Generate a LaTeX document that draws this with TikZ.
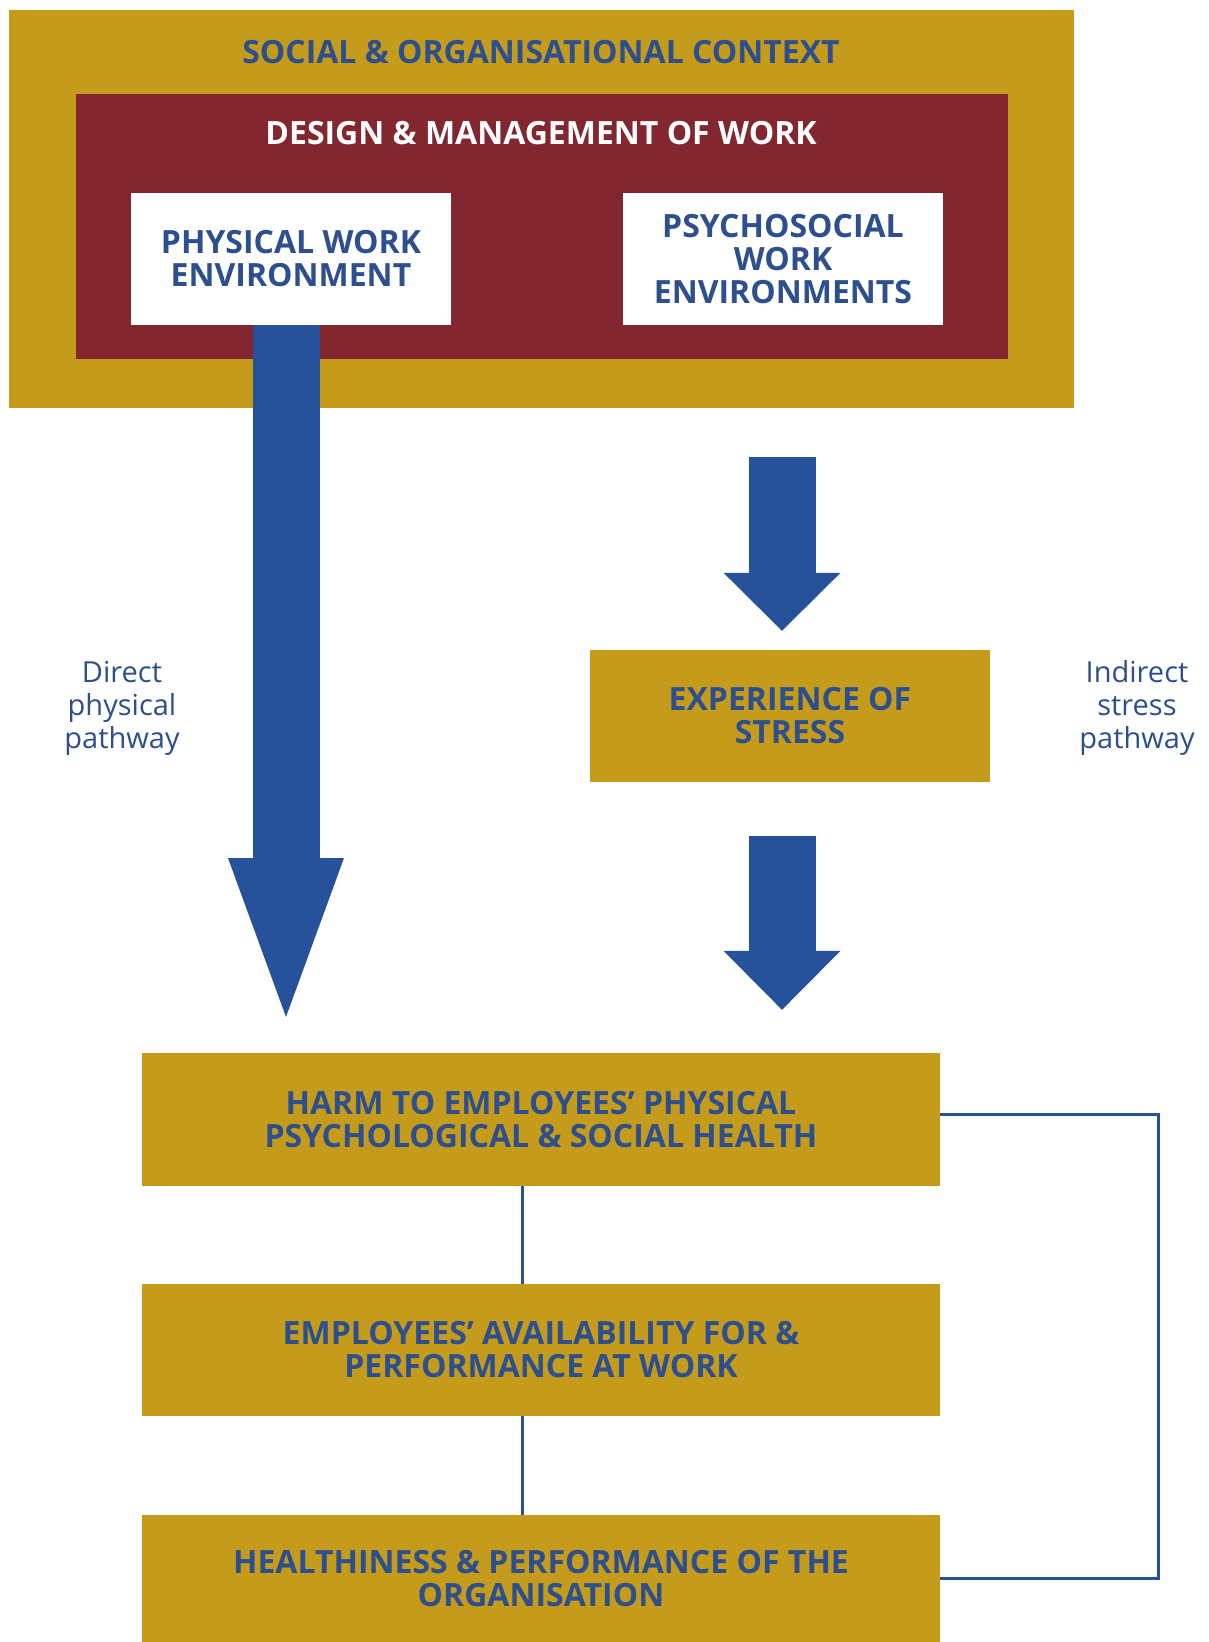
\documentclass[tikz,border=0pt]{standalone}
\usepackage{fontspec}
\setmainfont{Open Sans}
\usetikzlibrary{arrows.meta}
\usetikzlibrary{positioning}

\definecolor{ctxgold}{HTML}{C59B1B}
\definecolor{mgmtred}{HTML}{822630}
\definecolor{pathblue}{HTML}{28519C}
\definecolor{textblue}{HTML}{2D4F8E}

\begin{document}
\begin{tikzpicture}[x=1pt, y=-1pt,
  boxtext/.style={font=\fontsize{32}{33}\selectfont\bfseries, align=center, inner sep=0pt},
  goldbox/.style={boxtext, fill=ctxgold, text=textblue},
  whitebox/.style={boxtext, fill=white, text=textblue, minimum width=320pt, minimum height=132pt},
  heading/.style={boxtext},
  pathlabel/.style={font=\fontsize{29}{33}\selectfont, text=textblue, align=center},
  bigarrow/.style={pathblue, line width=67pt},
  link/.style={pathblue, line width=3pt}
]

  \useasboundingbox[fill=white] (0,0) rectangle (1209,1642);

  % Define nodes
  \node[fill=ctxgold, inner sep=0pt, minimum width=1065pt, minimum height=398pt] (context) at (541.5,209) {};
  \node[heading, text=textblue] (ctxtitle) at (541,52) {SOCIAL \& ORGANISATIONAL CONTEXT};
  \node[fill=mgmtred, inner sep=0pt, minimum width=932pt, minimum height=265pt] (design) at (542,226.5) {};
  \node[heading, text=white] (designtitle) at (541,133) {DESIGN \& MANAGEMENT OF WORK};
  \node[whitebox] (physical) at (291,259) {PHYSICAL WORK\\ENVIRONMENT};
  \node[whitebox] (psychosocial) at (783,259) {PSYCHOSOCIAL\\WORK\\ENVIRONMENTS};

  \node[goldbox, minimum width=400pt, minimum height=132pt] (stress) at (790,716) {EXPERIENCE OF\\STRESS};
  \node[goldbox, minimum width=798pt, minimum height=133pt] (harm) at (541,1119.5) {HARM TO EMPLOYEES’ PHYSICAL\\PSYCHOLOGICAL \& SOCIAL HEALTH};
  \node[goldbox, minimum width=798pt, minimum height=132pt] (avail) at (541,1350) {EMPLOYEES’ AVAILABILITY FOR \&\\PERFORMANCE AT WORK};
  \node[goldbox, minimum width=798pt, minimum height=127pt] (health) at (541,1578.5) {HEALTHINESS \& PERFORMANCE OF THE\\ORGANISATION};

  \node[pathlabel] (direct) at (122,708) {Direct\\physical\\pathway};
  \node[pathlabel] (indirect) at (1137,708) {Indirect\\stress\\pathway};

  \coordinate (physTip) at (286,1017);
  \coordinate (stressAxis) at (782,0);
  \coordinate (spine) at (522,0);

  % Connect the nodes
  \draw[bigarrow, -{Triangle[width=116pt, length=159pt, line width=0pt]}] (physical.south -| physTip) -- (physTip);
  \draw[bigarrow, -{Triangle[width=117pt, length=58pt, line width=0pt]}]
    ([yshift=-49pt]context.south -| stressAxis) -- ([yshift=19pt]stress.north -| stressAxis);
  \draw[bigarrow, -{Triangle[width=117pt, length=59pt, line width=0pt]}]
    ([yshift=-54pt]stress.south -| stressAxis) -- ([yshift=43pt]harm.north -| stressAxis);

  \draw[link] (harm.south -| spine) -- (avail.north -| spine);
  \draw[link] (avail.south -| spine) -- (health.north -| spine);
  \draw[link] ([yshift=5pt]harm.east) -- ++(218,0) |- (health.east);

\end{tikzpicture}
\end{document}
